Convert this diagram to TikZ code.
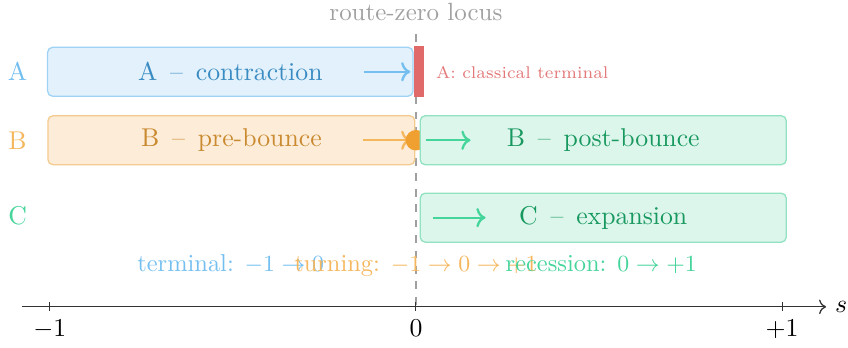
\documentclass[tikz,border=0pt]{standalone}
\usepackage{amsmath}
\usetikzlibrary{arrows.meta, positioning}
\definecolor{termblue}{HTML}{74BFF0}
\definecolor{termfill}{HTML}{E2F1FC}
\definecolor{termdraw}{HTML}{9ED3F6}
\definecolor{termtext}{HTML}{3A8BC2}
\definecolor{turnorange}{HTML}{F5B75E}
\definecolor{turnfill}{HTML}{FDECD8}
\definecolor{turndraw}{HTML}{F4CB8E}
\definecolor{turntext}{HTML}{C98A30}
\definecolor{turndot}{HTML}{F0A030}
\definecolor{recgreen}{HTML}{45D49A}
\definecolor{recfill}{HTML}{DDF6EC}
\definecolor{recdraw}{HTML}{90E2C0}
\definecolor{rectext}{HTML}{17985E}
\definecolor{termred}{HTML}{E06A6A}
\definecolor{locusgray}{HTML}{A0A0A0}
\tikzset{
    phase/.style={draw, rounded corners=2pt, line width=0.5pt, minimum width=5cm, minimum height=0.67cm, inner sep=0pt},
    termbox/.style={phase, fill=termfill, draw=termdraw, text=termtext},
    turnbox/.style={phase, fill=turnfill, draw=turndraw, text=turntext},
    recbox/.style={phase, fill=recfill, draw=recdraw, text=rectext},
    flow/.style={->, line width=0.9pt},
    rangelabel/.style={anchor=base, font=\fontsize{9.5}{11}\selectfont},
    locus/.style={dashed, line width=0.9pt, locusgray},
    axis/.style={->, line width=0.5pt, black!80}
}

\begin{document}
\begin{tikzpicture}
        \useasboundingbox (-5.68,-0.55) rectangle (5.9,4.19);
        \coordinate (ztop) at (0,3.72);
        \coordinate (zbot) at (0,0);
        \draw [locus] (ztop) -- (zbot);
        \node [text=locusgray, font=\fontsize{9.7}{11}\selectfont] (zlabel) at (0,4.03) {route-zero locus};

        \node [text=termblue] (rowA) at (-5.44,3.21) {A};
        \node [text=turnorange] (rowB) at (-5.44,2.275) {B};
        \node [text=recgreen] (rowC) at (-5.44,1.24) {C};

        \node [termbox, minimum width=4.99cm] (contraction) at (-2.535,3.21) {A\enspace--\enspace contraction};
        \node [fill=termred, minimum width=0.136cm, minimum height=0.69cm, inner sep=0pt, right=0pt of contraction] (terminal) {};
        \node [anchor=west, font=\fontsize{6.6}{8}\selectfont, text=termred!90] (termnote) at (0.15,3.2) {A: classical terminal};
        \draw [flow, termblue] ([xshift=-0.684cm]contraction.east) -- ([xshift=-0.045cm]contraction.east);

        \node [turnbox, minimum width=5.01cm] (prebounce) at (-2.52,2.275) {B\enspace--\enspace pre-bounce};
        \draw [flow, turnorange] ([xshift=-0.71cm]prebounce.east) -- ([xshift=-0.07cm]prebounce.east);
        \node [circle, fill=turndot, minimum size=0.28cm, inner sep=0pt] (bounce) at (0,2.275) {};
        \node [recbox, right=0.055cm of prebounce] (postbounce) {B\enspace--\enspace post-bounce};
        \draw [flow, recgreen] ([xshift=0.082cm]postbounce.west) -- ([xshift=0.697cm]postbounce.west);

        \node [recbox, below=0.37cm of postbounce] (expansion) {C\enspace--\enspace expansion};
        \draw [flow, recgreen] ([xshift=0.178cm]expansion.west) -- ([xshift=0.902cm]expansion.west);

        \node [rangelabel, text=termblue] (termrange) at (-2.53,0.48) {terminal: $-1\to 0$};
        \node [rangelabel, text=turnorange] (turnrange) at (0,0.48) {turning: $-1\to 0\to +1$};
        \node [rangelabel, text=recgreen] (recrange) at (2.53,0.48) {recession: $0\to +1$};

        \coordinate (axl) at (-5.38,0);
        \coordinate (axr) at (5.6,0);
        \draw [axis] (axl) -- (axr);
        \node [anchor=west] (svar) at (axr) {$s$};
        \draw [black!80] (-5,0.06) -- (-5,-0.06) node [below, black] (tickm) {$-1$};
        \draw [black!80] (0,0.06) -- (0,-0.06) node [below, black] (tickz) {$0$};
        \draw [black!80] (5,0.06) -- (5,-0.06) node [below, black] (tickp) {$+1$};
    \end{tikzpicture}
\end{document}
